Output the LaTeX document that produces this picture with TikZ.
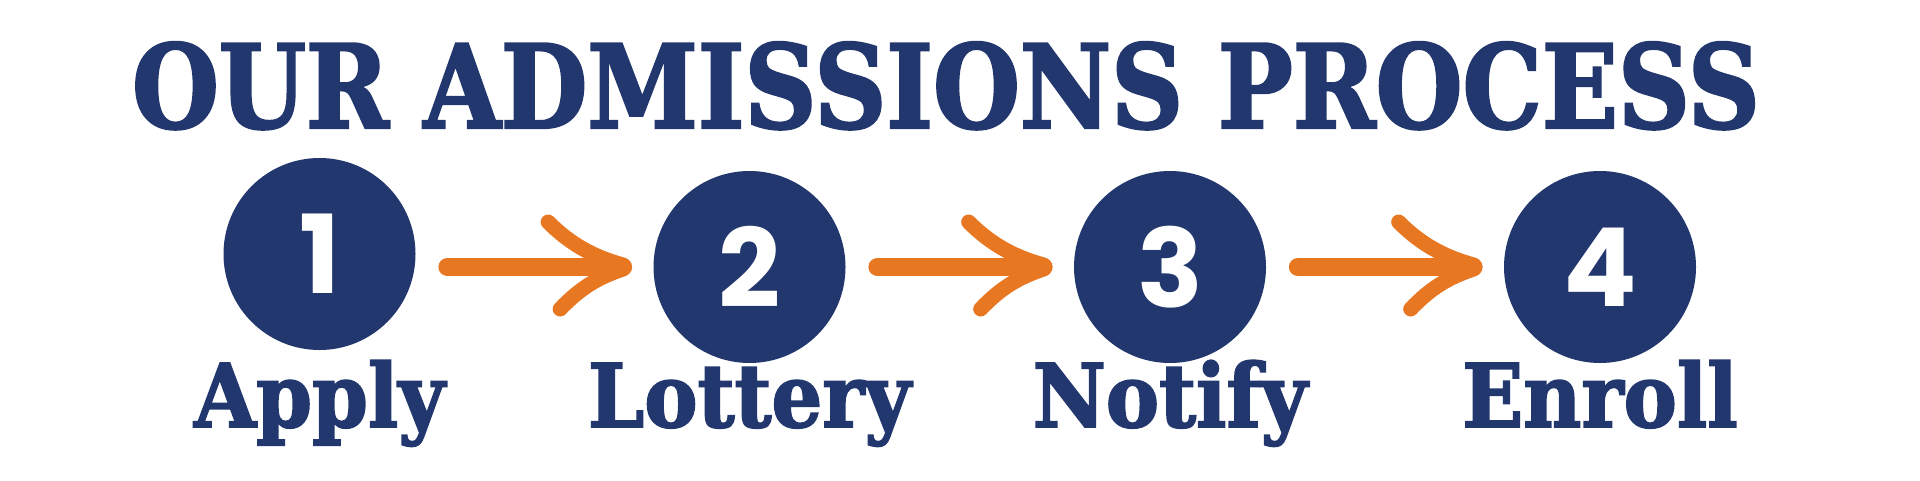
\documentclass[tikz,border=0pt]{standalone}
\usepackage{fontspec}
\usepackage{tikz}
\usetikzlibrary{calc, positioning}

\newfontfamily\titlefont{DejaVu Serif Bold}[FakeStretch=0.86, FakeBold=2]
\newfontfamily\slabfont{DejaVu Serif Bold}[FakeStretch=0.91, FakeBold=2]
\newfontfamily\numfont{Poppins Bold}

\definecolor{navy}{RGB}{34,55,110}
\definecolor{carrot}{RGB}{232,119,34}

\tikzset{
	stepdot/.style={circle, fill=navy, minimum size=3.84cm, inner sep=0pt, text=white, font=\numfont\fontsize{62}{62}\selectfont},
	steplabel/.style={anchor=base, inner sep=0pt, text=navy, font=\slabfont\fontsize{50}{50}\selectfont},
	arrowline/.style={carrot, line width=0.3cm, line cap=round},
}

% hand drawn arrow between two step circles
\newcommand{\handarrow}[2]{%
	\draw [arrowline, line width=0.36cm] ($(#1.east |- #2.west)+(0.63,0)$) -- ($(#2.west)+(-0.6,0)$) coordinate (tip);
	\draw [arrowline] ($(tip)+(-1.5,0.9)$) .. controls ($(tip)+(-1.04,0.44)$) and ($(tip)+(-0.58,0.2)$) .. ($(tip)+(0,0.04)$);
	\draw [arrowline] ($(tip)+(-1.26,-0.84)$) .. controls ($(tip)+(-0.84,-0.4)$) and ($(tip)+(-0.48,-0.2)$) .. ($(tip)+(0,-0.04)$);
}

\begin{document}
\begin{tikzpicture}
	\useasboundingbox (0,0) rectangle (38.4,9.6);
	
	\node [anchor=base, inner sep=0pt, text=navy, font=\titlefont\fontsize{66}{66}\selectfont] (title) at (18.92,7.04) {OUR ADMISSIONS PROCESS};
	
	\node [stepdot] (s1) at (6.39,4.52) {1};
	\node [stepdot] (s2) at (14.99,4.26) {2};
	\node [stepdot] (s3) at (23.40,4.26) {3};
	\node [stepdot] (s4) at (32.00,4.26) {4};
	
	\handarrow{s1}{s2}
	\handarrow{s2}{s3}
	\handarrow{s3}{s4}
	
	% % % % % % % % % % % % % % % % % % % % % % % % % %
	
	\node [steplabel] (l1) at (6.39,1.06) {Apply};
	\node [steplabel] (l2) at (14.99,1.06) {Lottery};
	\node [steplabel] (l3) at (23.40,1.06) {Notify};
	\node [steplabel] (l4) at (32.00,1.06) {Enroll};
\end{tikzpicture}
\end{document}
